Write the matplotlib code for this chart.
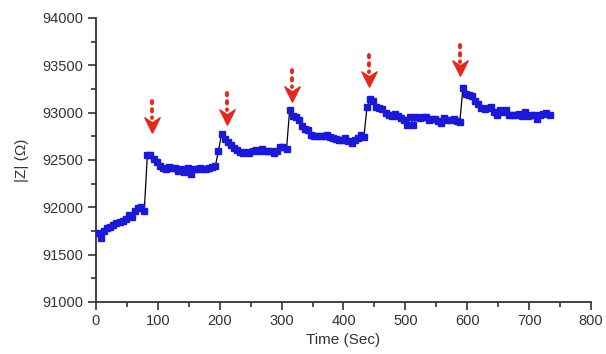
import numpy as np
import matplotlib.pyplot as plt
from matplotlib.path import Path
from matplotlib.ticker import MultipleLocator

plt.rcParams['font.family'] = ['Liberation Sans', 'DejaVu Sans']

# sampling times (s), one reading every 5 s
time_s = np.arange(3, 734, 5)

# |Z| readings in ohm, split by the step between additions
z_a = [91730, 91680, 91750, 91780, 91790, 91810, 91830, 91850, 91860, 91880,
       91920, 91900, 91960, 91990, 92000, 91960]
z_b = [92550, 92550, 92510, 92480, 92440, 92420, 92400, 92430, 92420, 92420,
       92380, 92400, 92370, 92420, 92350, 92410, 92400, 92420, 92400, 92410,
       92420, 92430, 92440, 92600, 92775]
z_c = [92720, 92690, 92660, 92630, 92610, 92580, 92570, 92580, 92570, 92600,
       92610, 92600, 92620, 92600, 92590, 92600, 92570, 92590, 92640, 92640,
       92620]
z_d = [93030, 92960, 92950, 92920, 92860, 92830, 92820, 92760, 92750, 92750,
       92750, 92750, 92760, 92740, 92730, 92720, 92710, 92710, 92730, 92700,
       92680, 92710, 92730, 92760, 92740, 93060, 93140]
z_e = [93120, 93060, 93050, 93040, 93000, 92970, 92960, 92990, 92960, 92940,
       92920, 92870, 92950, 92870, 92950, 92940, 92950, 92950, 92920, 92930,
       92930, 92910, 92890, 92940, 92920, 92920, 92930, 92910, 92900]
z_f = [93260, 93200, 93190, 93180, 93120, 93090, 93050, 93040, 93050, 93060,
       93010, 92980, 93030, 93010, 93030, 92980, 92970, 92980, 92990, 92960,
       93010, 92960, 92970, 92980, 92930, 92980, 92990, 93000, 92970]
impedance = z_a + z_b + z_c + z_d + z_e + z_f

# addition arrows: time, top of dotted shaft, top of head, tip
arrow_t = [91, 212, 316, 441, 589]
arrow_top = [93120, 93210, 93450, 93610, 93715]
arrow_head = [92945, 93030, 93270, 93430, 93535]
arrow_tip = [92795, 92880, 93120, 93290, 93400]

fig = plt.figure(figsize=(6.06, 3.54), dpi=100)
ax = fig.add_axes([0.1584, 0.1469, 0.8168, 0.8023])

ax.plot(time_s, impedance, color='black', lw=0.9, zorder=2)
ax.plot(time_s, impedance, ls='none', marker='s', ms=4.2,
        mfc='#1a1ad6', mec='#1a1ad6', zorder=3)

chevron = Path([(-1, 1), (0, 0.35), (1, 1), (0, -1), (-1, 1)],
               [Path.MOVETO, Path.LINETO, Path.LINETO, Path.LINETO, Path.CLOSEPOLY])
red = '#e5281e'
for t, top, head, tip in zip(arrow_t, arrow_top, arrow_head, arrow_tip):
    ax.plot([t, t], [top, head], ls=(0, (0.6, 1.5)), color=red, lw=2.8,
            dash_capstyle='round', zorder=4)
    ax.plot([t], [(head + tip) / 2], marker=chevron, ms=11, color=red,
            mec=red, zorder=4)

ax.set_xlim(0, 800)
ax.set_ylim(91000, 94000)
ax.xaxis.set_major_locator(MultipleLocator(100))
ax.xaxis.set_minor_locator(MultipleLocator(50))
ax.yaxis.set_major_locator(MultipleLocator(500))
ax.yaxis.set_minor_locator(MultipleLocator(250))

for side in ['top', 'right']:
    ax.spines[side].set_visible(False)
for side in ['left', 'bottom']:
    ax.spines[side].set_linewidth(1.3)
    ax.spines[side].set_color('#333333')

ax.tick_params(which='major', direction='out', length=6, width=1.2,
               color='#333333', labelsize=10.5, labelcolor='#333333', pad=3)
ax.tick_params(which='minor', direction='out', length=3.5, width=1.2,
               color='#333333')

ax.set_xlabel('Time (Sec)', fontsize=11, color='#333333', labelpad=3)
ax.set_ylabel('|Z| (Ω)', fontsize=11, color='#333333', labelpad=10)

plt.savefig('out.png', dpi=100)
